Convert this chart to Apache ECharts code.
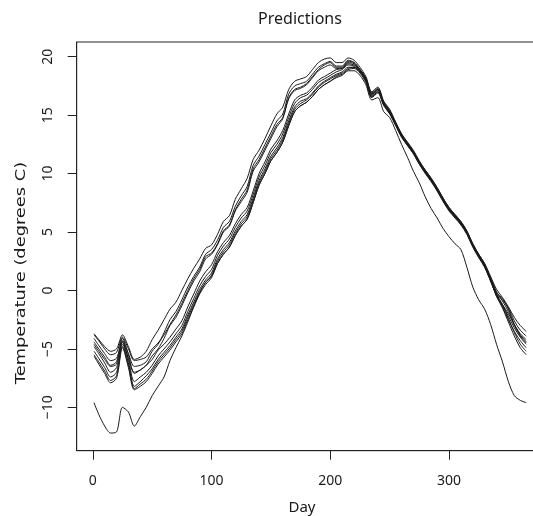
<!DOCTYPE html>
<html>
<head>
<meta charset="utf-8">
<script src="https://cdn.jsdelivr.net/npm/echarts@6/dist/echarts.min.js"></script>
<style>html,body{margin:0;padding:0;background:#fff;overflow:hidden}#c{width:533px;height:516px}</style>
</head>
<body>
<div id="c"></div>
<script>
const days = [1,5,10,15,20,25,30,35,40,45,50,55,60,65,70,75,80,85,90,95,100,105,110,115,120,125,130,135,140,145,150,155,160,165,170,175,180,185,190,195,200,205,210,215,220,225,230,235,240,245,250,255,260,265,270,275,280,285,290,295,300,305,310,315,320,325,330,335,340,345,350,355,360,365];

const pred1 = [-3.7,-4.2,-4.8,-5.2,-5.0,-3.8,-4.8,-5.9,-5.7,-5.2,-4.2,-3.4,-2.5,-1.6,-1.0,0.0,1.0,1.9,2.7,3.6,3.9,4.8,5.9,6.4,7.8,8.7,9.6,11.2,12.0,13.0,14.1,15.1,15.7,17.2,17.9,18.1,18.3,18.9,19.5,19.8,19.9,19.5,19.5,19.9,19.7,19.1,18.3,17.0,17.4,16.2,15.5,14.4,13.4,12.6,11.9,11.0,10.3,9.6,8.8,7.9,7.1,6.5,5.9,5.1,4.0,3.1,2.3,1.2,0.1,-0.6,-1.4,-2.3,-3.0,-3.5];
const pred2 = [-4.1,-4.7,-5.4,-6.0,-5.8,-4.3,-5.4,-6.5,-6.4,-6.1,-5.2,-4.6,-3.6,-2.5,-1.8,-0.8,0.3,1.2,2.0,3.1,3.5,4.3,5.4,5.9,7.2,8.1,8.9,10.7,11.5,12.5,13.5,14.5,15.1,16.8,17.5,17.7,17.9,18.5,19.1,19.4,19.6,19.2,19.2,19.7,19.5,18.9,18.1,16.8,17.2,16.0,15.3,14.2,13.2,12.4,11.7,10.8,10.1,9.4,8.6,7.7,6.9,6.3,5.7,4.9,3.8,2.9,2.1,0.9,-0.4,-1.2,-2.0,-2.9,-3.7,-4.2];
const pred3 = [-3.8,-4.3,-5.0,-5.5,-5.3,-4.0,-5.0,-6.0,-5.9,-5.7,-5.0,-4.5,-3.8,-2.9,-2.1,-1.1,0.0,1.0,1.8,2.9,3.2,4.0,5.1,5.6,6.9,7.8,8.6,10.4,11.2,12.2,13.2,14.2,14.8,16.5,17.2,17.4,17.7,18.3,18.9,19.3,19.5,19.1,19.1,19.6,19.5,18.9,18.2,16.9,17.3,16.1,15.4,14.3,13.3,12.5,11.8,10.9,10.2,9.5,8.7,7.8,7.0,6.4,5.8,5.0,3.9,3.0,2.2,1.0,-0.3,-0.8,-1.5,-2.6,-3.4,-3.9];
const pred4 = [-4.6,-5.2,-5.9,-6.5,-6.3,-4.4,-5.8,-7.0,-6.8,-6.4,-5.6,-5.0,-4.1,-3.0,-2.3,-1.3,-0.2,0.8,1.6,2.7,3.1,3.9,5.0,5.5,6.8,7.6,8.4,10.2,11.0,12.0,13.0,14.0,14.7,16.4,17.1,17.3,17.6,18.2,18.8,19.1,19.3,19.0,19.0,19.5,19.4,18.8,18.1,16.8,17.2,16.0,15.3,14.2,13.2,12.5,11.8,10.9,10.2,9.5,8.7,7.8,7.0,6.4,5.8,5.0,3.9,3.0,2.1,0.9,-0.5,-1.3,-2.2,-3.2,-4.0,-4.6];
const pred5 = [-4.4,-5.0,-5.7,-6.4,-6.1,-4.1,-5.5,-7.1,-6.8,-6.4,-5.9,-5.1,-4.6,-4.0,-3.3,-2.6,-1.4,-0.3,0.8,1.6,2.2,3.3,4.1,4.7,5.7,6.5,7.1,8.5,10.0,11.0,12.1,12.8,13.7,15.1,16.3,16.7,16.9,17.4,18.0,18.3,18.6,18.9,19.0,19.4,19.3,18.9,18.1,16.8,17.2,16.1,15.4,14.4,13.4,12.7,12.0,11.1,10.3,9.6,8.8,7.9,7.1,6.5,5.9,5.1,4.0,3.1,2.3,1.1,-0.1,-0.9,-1.8,-3.0,-3.8,-4.4];
const pred6 = [-5.2,-5.8,-6.6,-7.4,-7.0,-4.6,-6.2,-8.2,-7.8,-7.3,-6.7,-5.9,-5.3,-4.7,-4.0,-3.3,-2.1,-1.0,0.1,0.9,1.5,2.7,3.5,4.1,5.1,5.9,6.5,7.9,9.4,10.4,11.5,12.2,13.1,14.5,15.7,16.2,16.4,16.9,17.5,17.9,18.2,18.5,18.7,19.1,19.1,18.7,17.9,16.6,17.0,15.9,15.2,14.2,13.2,12.5,11.8,10.9,10.1,9.4,8.6,7.7,6.9,6.3,5.7,4.9,3.8,2.9,2.0,0.8,-0.4,-1.4,-2.5,-3.5,-4.3,-4.9];
const pred7 = [-4.8,-5.4,-6.2,-7.0,-6.6,-4.4,-5.9,-7.8,-7.4,-7.0,-6.4,-5.6,-5.0,-4.4,-3.7,-3.0,-1.8,-0.7,0.4,1.2,1.8,3.0,3.8,4.4,5.4,6.2,6.8,8.2,9.7,10.7,11.8,12.5,13.4,14.8,16.0,16.5,16.7,17.2,17.8,18.1,18.4,18.7,18.9,19.3,19.2,18.8,18.0,16.7,17.1,16.0,15.3,14.3,13.3,12.6,11.9,11.0,10.2,9.5,8.7,7.8,7.0,6.4,5.8,5.0,3.9,3.0,2.2,1.0,-0.2,-0.7,-1.6,-2.9,-3.9,-4.5];
const pred8 = [-5.5,-6.1,-6.9,-7.7,-7.3,-4.8,-6.4,-8.4,-8.0,-7.6,-6.9,-6.1,-5.5,-4.9,-4.2,-3.5,-2.3,-1.2,-0.1,0.7,1.3,2.5,3.3,3.9,4.9,5.7,6.3,7.7,9.2,10.2,11.3,12.0,12.9,14.3,15.5,16.0,16.3,16.8,17.4,17.8,18.1,18.4,18.6,19.0,19.1,18.7,17.9,16.6,17.0,15.9,15.2,14.2,13.2,12.5,11.8,10.9,10.1,9.4,8.6,7.7,6.9,6.3,5.7,4.9,3.8,2.9,2.1,0.9,-0.3,-1.2,-2.4,-3.6,-4.6,-5.2];
const pred9 = [-5.6,-6.3,-7.1,-7.9,-7.5,-4.9,-6.6,-8.5,-8.2,-7.8,-7.1,-6.3,-5.7,-5.1,-4.4,-3.7,-2.5,-1.4,-0.3,0.5,1.1,2.3,3.1,3.7,4.7,5.5,6.1,7.5,9.0,10.0,11.1,11.8,12.7,14.1,15.3,15.8,16.1,16.6,17.2,17.6,17.9,18.3,18.5,18.9,19.0,18.6,17.8,16.5,16.9,15.8,15.1,14.1,13.1,12.4,11.7,10.8,10.0,9.3,8.5,7.6,6.8,6.2,5.6,4.8,3.7,2.8,2.0,0.8,-0.5,-1.5,-2.7,-3.9,-4.9,-5.5];
const pred10 = [-9.6,-10.6,-11.6,-12.2,-12.1,-10.0,-10.4,-11.6,-10.8,-10.0,-9.0,-8.2,-7.4,-6.0,-4.9,-3.9,-2.7,-1.4,-0.2,0.7,1.2,2.3,3.1,3.7,4.7,5.5,6.1,7.5,9.0,10.0,11.1,11.8,12.7,14.1,15.3,15.8,16.1,16.6,17.2,17.6,17.9,18.2,18.4,18.8,18.8,18.4,17.6,16.3,16.5,15.3,14.8,13.7,12.5,11.4,10.2,9.2,8.0,7.0,6.2,5.3,4.6,4.0,3.5,2.0,0.3,-0.8,-1.6,-2.9,-4.6,-6.1,-7.8,-9.0,-9.4,-9.6];

const predictions = [pred1,pred2,pred3,pred4,pred5,pred6,pred7,pred8,pred9,pred10];
const xTicks = [0,100,200,300];
const yTicks = [-10,-5,0,5,10,15,20];

const chart = echarts.init(document.getElementById('c'), null, {renderer:'canvas'});
const font = 'Noto Sans';
const txt = '#1a1a1a';

chart.setOption({
  animation: false,
  backgroundColor: '#fff',
  grid: {left: 76.7, top: 42, width: 466.8, bottom: 65.3, show: true, borderColor: '#222', borderWidth: 1,
    containLabel: false, outerBoundsMode: 'none'},
  xAxis: {
    type: 'value', min: -13.56, max: 379.56,
    splitLine: {show: false},
    axisLine: {show: true, onZero: false, lineStyle: {color: '#222', width: 1}},
    axisTick: {show: true, length: 9, lineStyle: {color: '#222'}, customValues: xTicks},
    axisLabel: {customValues: xTicks, margin: 23, fontFamily: font, fontSize: 14, color: txt}
  },
  yAxis: {
    type: 'value', min: -13.71, max: 21.26,
    splitLine: {show: false},
    axisLine: {show: true, onZero: false, lineStyle: {color: '#222', width: 1}},
    axisTick: {show: true, length: 9, lineStyle: {color: '#222'}, customValues: yTicks},
    axisLabel: {customValues: yTicks, rotate: 90, margin: 22, fontFamily: font, fontSize: 14, color: txt,
      formatter: v => (v < 0 ? '\u2212' + Math.abs(v) : String(v))}
  },
  graphic: [
    {type: 'text', x: 300, y: 19, style: {text: 'Predictions', fontFamily: font, fontSize: 16, fill: txt, textAlign: 'center', textVerticalAlign: 'middle'}},
    {type: 'text', x: 302, y: 508, style: {text: 'Day', fontFamily: font, fontSize: 15, fill: txt, textAlign: 'center', textVerticalAlign: 'middle'}},
    {type: 'text', x: 21, y: 273, rotation: Math.PI/2, scaleX: 1.32, style: {text: 'Temperature (degrees C)', fontFamily: 'DejaVu Sans', fontSize: 13.5, fill: txt, textAlign: 'center', textVerticalAlign: 'middle'}}
  ],
  series: predictions.map((arr, i) => ({
    type: 'line', name: 'p' + (i+1),
    data: days.map((d, j) => [d, arr[j]]),
    showSymbol: false, smooth: 0.3,
    lineStyle: {color: '#1a1a1a', width: 1},
    emphasis: {disabled: true}, silent: true
  }))
});
</script>
</body>
</html>
